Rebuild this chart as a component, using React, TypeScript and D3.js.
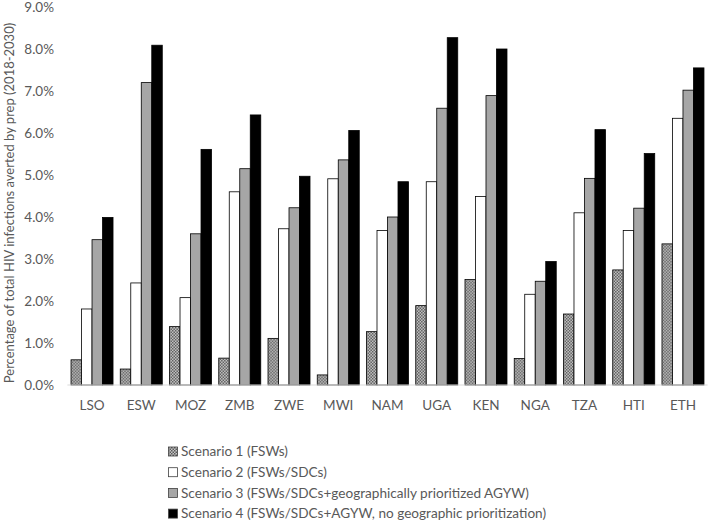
import React from "react";
import * as d3 from "d3";

const categories = ["LSO", "ESW", "MOZ", "ZMB", "ZWE", "MWI", "NAM", "UGA", "KEN", "NGA", "TZA", "HTI", "ETH"];
const scenario1 = [0.60, 0.38, 1.39, 0.64, 1.11, 0.24, 1.27, 1.89, 2.51, 0.63, 1.69, 2.74, 3.36];
const scenario2 = [1.81, 2.43, 2.08, 4.60, 3.72, 4.91, 3.68, 4.84, 4.49, 2.16, 4.10, 3.68, 6.35];
const scenario3 = [3.46, 7.20, 3.60, 5.15, 4.22, 5.36, 4.00, 6.59, 6.89, 2.47, 4.92, 4.21, 7.02];
const scenario4 = [3.99, 8.09, 5.61, 6.43, 4.97, 6.06, 4.84, 8.27, 8.00, 2.94, 6.08, 5.51, 7.55];
const seriesNames = [
  "Scenario 1 (FSWs)",
  "Scenario 2 (FSWs/SDCs)",
  "Scenario 3 (FSWs/SDCs+geographically prioritized AGYW)",
  "Scenario 4 (FSWs/SDCs+AGYW, no geographic prioritization)",
];
const yTicks = [0, 1, 2, 3, 4, 5, 6, 7, 8, 9];
const yTitle = "Percentage of total HIV infections averted by prep (2018-2030)";

const seriesValues = [scenario1, scenario2, scenario3, scenario4];
const fills = ["url(#checker)", "#ffffff", "#a6a6a6", "#000000"];
const FONT = "Lato, 'Open Sans', sans-serif";
const TEXT = "#595959";

export default function App() {
  const W = 709, H = 520;
  const x0 = d3.scaleBand<string>().domain(categories).range([67.4, 707.6]).padding(0);
  const x1 = d3.scaleBand<number>().domain([0, 1, 2, 3]).range([0, x0.bandwidth()]).paddingInner(0).paddingOuter(0.345);
  const y = d3.scaleLinear().domain([0, 9]).range([385, 7]);

  return (
    <svg width={W} height={H} style={{ position: "absolute", left: 0, top: 0, background: "#fff" }}>
      <defs>
        <pattern id="checker" width="3" height="3" patternUnits="userSpaceOnUse">
          <rect width="3" height="3" fill="#c8c8c8" />
          <rect width="1.5" height="1.5" fill="#5a5a5a" />
          <rect x="1.5" y="1.5" width="1.5" height="1.5" fill="#5a5a5a" />
        </pattern>
      </defs>
      {yTicks.map((t) => (
        <text key={t} x={54} y={y(t)} dy="0.35em" textAnchor="end" fontFamily={FONT} fontSize={13.5} fill={TEXT}>
          {t.toFixed(1) + "%"}
        </text>
      ))}
      <text
        transform={`translate(14,${203}) rotate(-90)`}
        textAnchor="middle"
        fontFamily={FONT}
        fontSize={13}
        fill={TEXT}
      >
        {yTitle}
      </text>
      {categories.map((c, i) => (
        <g key={c} transform={`translate(${x0(c)},0)`}>
          {seriesValues.map((vals, s) => (
            <rect
              key={s}
              x={x1(s)}
              y={y(vals[i])}
              width={x1.bandwidth()}
              height={y(0) - y(vals[i])}
              fill={fills[s]}
              stroke="#000"
              strokeWidth={0.8}
            />
          ))}
        </g>
      ))}
      <line x1={67.4} x2={707.6} y1={y(0)} y2={y(0)} stroke="#d9d9d9" strokeWidth={1} />
      {categories.map((c) => (
        <text key={c} x={(x0(c) as number) + x0.bandwidth() / 2} y={405} dy="0.35em" textAnchor="middle" fontFamily={FONT} fontSize={13.5} fill={TEXT}>
          {c}
        </text>
      ))}
      {seriesNames.map((n, s) => {
        const ly = 451.5 + s * 20.7;
        return (
          <g key={n}>
            <rect x={168.5} y={ly - 4.5} width={9} height={9} fill={fills[s]} stroke="#404040" strokeWidth={0.8} />
            <text x={181} y={ly} dy="0.35em" fontFamily={FONT} fontSize={13.6} fill={TEXT}>
              {n}
            </text>
          </g>
        );
      })}
    </svg>
  );
}
